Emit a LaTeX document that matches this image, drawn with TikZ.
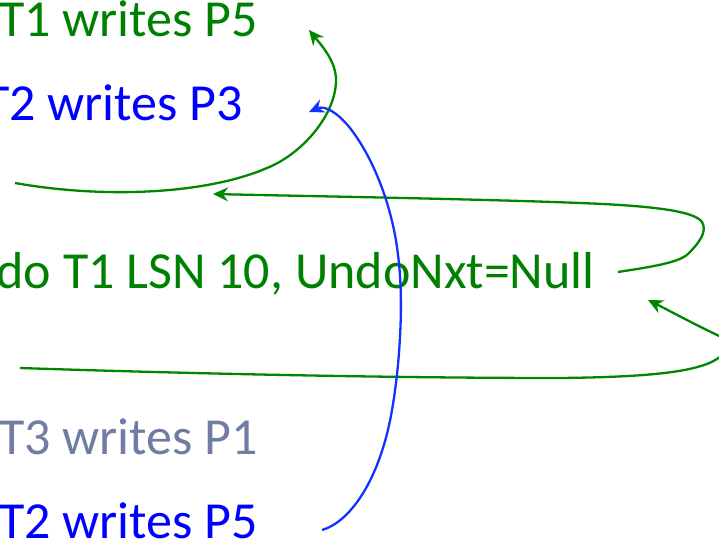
\documentclass[tikz,border=0pt]{standalone}
\usepackage{fontspec}
\setmainfont{Carlito}
\usetikzlibrary{arrows.meta}
\definecolor{tgreen}{RGB}{0,128,0}
\definecolor{agreen}{RGB}{0,135,0}
\definecolor{tblue}{RGB}{0,0,255}
\definecolor{ablue}{RGB}{20,50,255}
\definecolor{tgrey}{RGB}{112,124,164}
\tikzset{
  lbl/.style={inner sep=0pt, anchor=base east, font=\fontsize{52}{52}\selectfont},
  conn/.style={line width=2.3pt, -{Stealth[length=15pt,width=14pt,inset=5pt]}},
}
\begin{document}
\begin{tikzpicture}[x=1pt,y=-1pt]
\useasboundingbox (0,0) rectangle (719,540);
\clip (0,0) rectangle (719,540);
% texts
\node[lbl, text=tgreen] (t1p5) at (258,37) {T1 writes P5};
\node[lbl, text=tblue]  (t2p3) at (243,121) {T2 writes P3};
\node[lbl, text=tgreen] (undo) at (595,288) {do T1 LSN 10, UndoNxt=Null};
\node[lbl, text=tgrey]  (t3p1) at (258,454) {T3 writes P1};
\node[lbl, text=tblue]  (t2p5) at (258,538) {T2 writes P5};
% connector end points
\coordinate (a1s) at (15,183);
\coordinate (a1e) at (309,30);
\coordinate (a2s) at (618,272);
\coordinate (a2e) at (213,194);
\coordinate (a3s) at (20,368);
\coordinate (a3e) at (648,300);
\coordinate (b1s) at (322,530);
\coordinate (b1e) at (309,112);
% green arrow 1
\draw[conn, agreen] (a1s) .. controls (105,199) and (207,194) .. (267,168)
  .. controls (302,154) and (336,115) .. (336,80)
  .. controls (336,62) and (323,47) .. (a1e);
% green arrow 2
\draw[conn, agreen] (a2s) .. controls (650,267) and (678,263) .. (688,254)
  .. controls (698,244) and (708,232) .. (702,222)
  .. controls (695,212) and (660,206) .. (580,203)
  .. controls (480,199) and (300,196) .. (a2e);
% green arrow 3
\draw[conn, agreen] (a3s) .. controls (200,374) and (400,378) .. (560,378)
  .. controls (650,377) and (705,372) .. (722,355)
  .. controls (735,345) and (728,340) .. (715,334)
  .. controls (690,322) and (670,311) .. (a3e);
% blue arrow
\draw[conn, ablue] (b1s) .. controls (350,522) and (380,480) .. (392,410)
  .. controls (400,364) and (404,300) .. (398,255)
  .. controls (393,210) and (375,160) .. (350,128)
  .. controls (338,113) and (325,105) .. (b1e);
\end{tikzpicture}
\end{document}
